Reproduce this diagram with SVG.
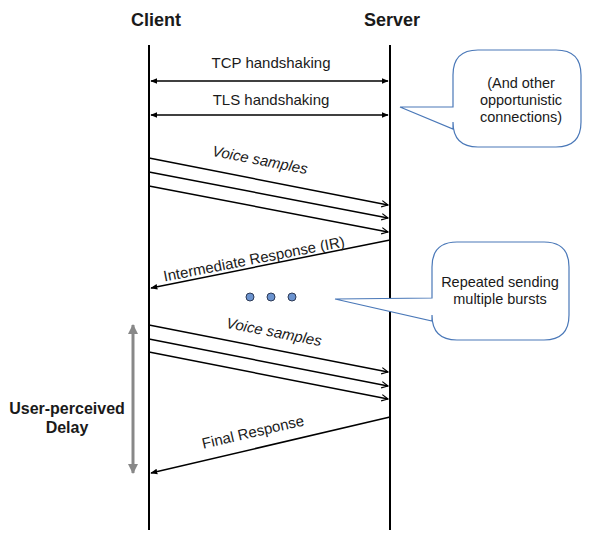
<svg xmlns="http://www.w3.org/2000/svg" width="592" height="535" viewBox="0 0 592 535">
<defs>
<style>
text{font-family:"Liberation Sans",Arial,sans-serif;fill:#1a1a1a}
.h{font-size:18px;font-weight:bold;text-anchor:middle}
.d{font-size:16px;font-weight:bold;text-anchor:middle}
.l{font-size:15px;text-anchor:middle}
.i{font-style:italic}
.c{font-size:14.5px;text-anchor:middle}
.life{stroke:#000;stroke-width:2;fill:none}
.msg{stroke:#000;stroke-width:1.5;fill:none}
.call{fill:#fff;stroke:#4a78b8;stroke-width:1.2}
</style>
<marker id="fa" viewBox="0 0 10 10" refX="9" refY="5" markerWidth="7" markerHeight="7" orient="auto-start-reverse" markerUnits="userSpaceOnUse">
<path d="M0,1 L10,5 L0,9 z" fill="#000"/>
</marker>
<marker id="oa" viewBox="0 0 10 10" refX="9" refY="5" markerWidth="8" markerHeight="8" orient="auto" markerUnits="userSpaceOnUse">
<path d="M1,1 L9,5 L1,9" fill="none" stroke="#000" stroke-width="1.5"/>
</marker>
<marker id="ga" viewBox="0 0 10 10" refX="9" refY="5" markerWidth="10" markerHeight="10" orient="auto-start-reverse" markerUnits="userSpaceOnUse">
<path d="M0,0 L10,5 L0,10 z" fill="#888"/>
</marker>
</defs>

<g id="client">
<text class="h" x="156" y="26">Client</text>
<line class="life" x1="149" y1="45" x2="149" y2="530"/>
</g>
<g id="server">
<text class="h" x="392" y="26">Server</text>
<line class="life" x1="390" y1="45" x2="390" y2="530"/>
</g>

<g id="connectors">
<line class="msg" x1="151" y1="81" x2="388" y2="81" marker-start="url(#fa)" marker-end="url(#fa)"/>
<line class="msg" x1="151" y1="115" x2="388" y2="115" marker-start="url(#fa)" marker-end="url(#fa)"/>
<line class="msg" x1="149" y1="158" x2="388" y2="205" marker-end="url(#oa)"/>
<line class="msg" x1="149" y1="172" x2="388" y2="218" marker-end="url(#oa)"/>
<line class="msg" x1="149" y1="186" x2="388" y2="232" marker-end="url(#oa)"/>
<line class="msg" x1="390" y1="240" x2="151" y2="288" marker-end="url(#fa)"/>
<line class="msg" x1="149" y1="325" x2="388" y2="372" marker-end="url(#oa)"/>
<line class="msg" x1="149" y1="339" x2="388" y2="386" marker-end="url(#oa)"/>
<line class="msg" x1="149" y1="352" x2="388" y2="399" marker-end="url(#oa)"/>
<line class="msg" x1="390" y1="417" x2="151" y2="473" marker-end="url(#fa)"/>
<line x1="133" y1="325" x2="133" y2="473" stroke="#888" stroke-width="3" marker-start="url(#ga)" marker-end="url(#ga)"/>
</g>

<g id="labels">
<text class="l" x="271" y="68">TCP handshaking</text>
<text class="l" x="271" y="105">TLS handshaking</text>
<text class="l i" transform="translate(259,165) rotate(11)">Voice samples</text>
<text class="l" transform="translate(255,264) rotate(-11)">Intermediate Response (IR)</text>
<text class="l i" transform="translate(273,337) rotate(11)">Voice samples</text>
<text class="l" transform="translate(254,437) rotate(-13)">Final Response</text>
</g>

<g id="delay">
<text class="d" x="67" y="414">User-perceived</text>
<text class="d" x="67" y="433">Delay</text>
</g>

<g id="dots">
<circle cx="250" cy="297" r="4" fill="#6b93cf" stroke="#2d3a55" stroke-width="1"/>
<circle cx="271" cy="297" r="4" fill="#6b93cf" stroke="#2d3a55" stroke-width="1"/>
<circle cx="292" cy="297" r="4" fill="#6b93cf" stroke="#2d3a55" stroke-width="1"/>
</g>

<g id="callout1">
<path class="call" d="M478,50 H556 Q581,50 581,75 V122 Q581,147 556,147 H478 Q453,147 453,122 V129 L400,107 L453,107 V75 Q453,50 478,50 Z"/>
<text class="c" x="521" y="88">(And other</text>
<text class="c" x="521" y="105">opportunistic</text>
<text class="c" x="521" y="122">connections)</text>
</g>

<g id="callout2">
<path class="call" d="M457,242 H544 Q569,242 569,267 V315 Q569,340 544,340 H457 Q432,340 432,315 V321 L335,299 L432,298 V267 Q432,242 457,242 Z"/>
<text class="c" x="500" y="287">Repeated sending</text>
<text class="c" x="500" y="304">multiple bursts</text>
</g>
</svg>
